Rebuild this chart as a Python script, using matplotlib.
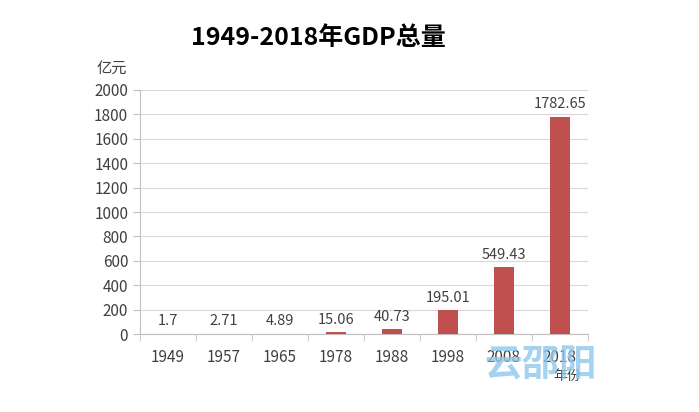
import matplotlib.pyplot as plt
import numpy as np

plt.rcParams['font.family'] = ['Noto Sans CJK SC', 'DejaVu Sans']

years = ['1949', '1957', '1965', '1978', '1988', '1998', '2008', '2018']
gdp = [1.7, 2.71, 4.89, 15.06, 40.73, 195.01, 549.43, 1782.65]
value_labels = ['1.7', '2.71', '4.89', '15.06', '40.73', '195.01', '549.43', '1782.65']

BAR_COLOR = '#C0504D'
TEXT_COLOR = '#404040'

fig = plt.figure(figsize=(6.99, 4.12), dpi=100)
ax = fig.add_axes([0.2003, 0.189, 0.6407, 0.5926])

x = np.arange(len(years))
bars = ax.bar(x, gdp, width=0.36, color=BAR_COLOR, zorder=3)

for xi, v, lab in zip(x, gdp, value_labels):
    ax.annotate(lab, (xi, v), xytext=(0, 4), textcoords='offset points',
                ha='center', va='bottom', fontsize=10.5, color=TEXT_COLOR)

ax.set_xlim(-0.5, len(years) - 0.5)
ax.set_ylim(0, 2000)
ax.set_yticks(np.arange(0, 2001, 200))
ax.set_xticks(x)
ax.set_xticklabels(years)
ax.set_xticks(np.arange(-0.5, len(years), 1), minor=True)
ax.tick_params(axis='x', which='major', length=0, pad=11, labelsize=11, labelcolor=TEXT_COLOR)
ax.tick_params(axis='x', which='minor', length=5, color='#BFBFBF', direction='out')
ax.tick_params(axis='y', length=5, color='#BFBFBF', labelsize=11, labelcolor=TEXT_COLOR)

ax.grid(axis='y', color='#D9D9D9', linewidth=0.8, zorder=0)
for side in ['top', 'right']:
    ax.spines[side].set_visible(False)
ax.spines['left'].set_color('#BFBFBF')
ax.spines['bottom'].set_color('#BFBFBF')

fig.text(0.456, 0.907, '1949-2018年GDP总量', ha='center', va='center',
         fontsize=18, fontweight='bold', color='black')
fig.text(0.160, 0.835, '亿元', ha='center', va='center', fontsize=11, color=TEXT_COLOR)
fig.text(0.812, 0.088, '年份', ha='center', va='center', fontsize=10, color=TEXT_COLOR)
fig.text(0.773, 0.115, '云邵阳', ha='center', va='center', fontsize=27,
         fontweight='bold', color='#8FC8EC', alpha=0.8)

fig.savefig('out.png', dpi=100)
